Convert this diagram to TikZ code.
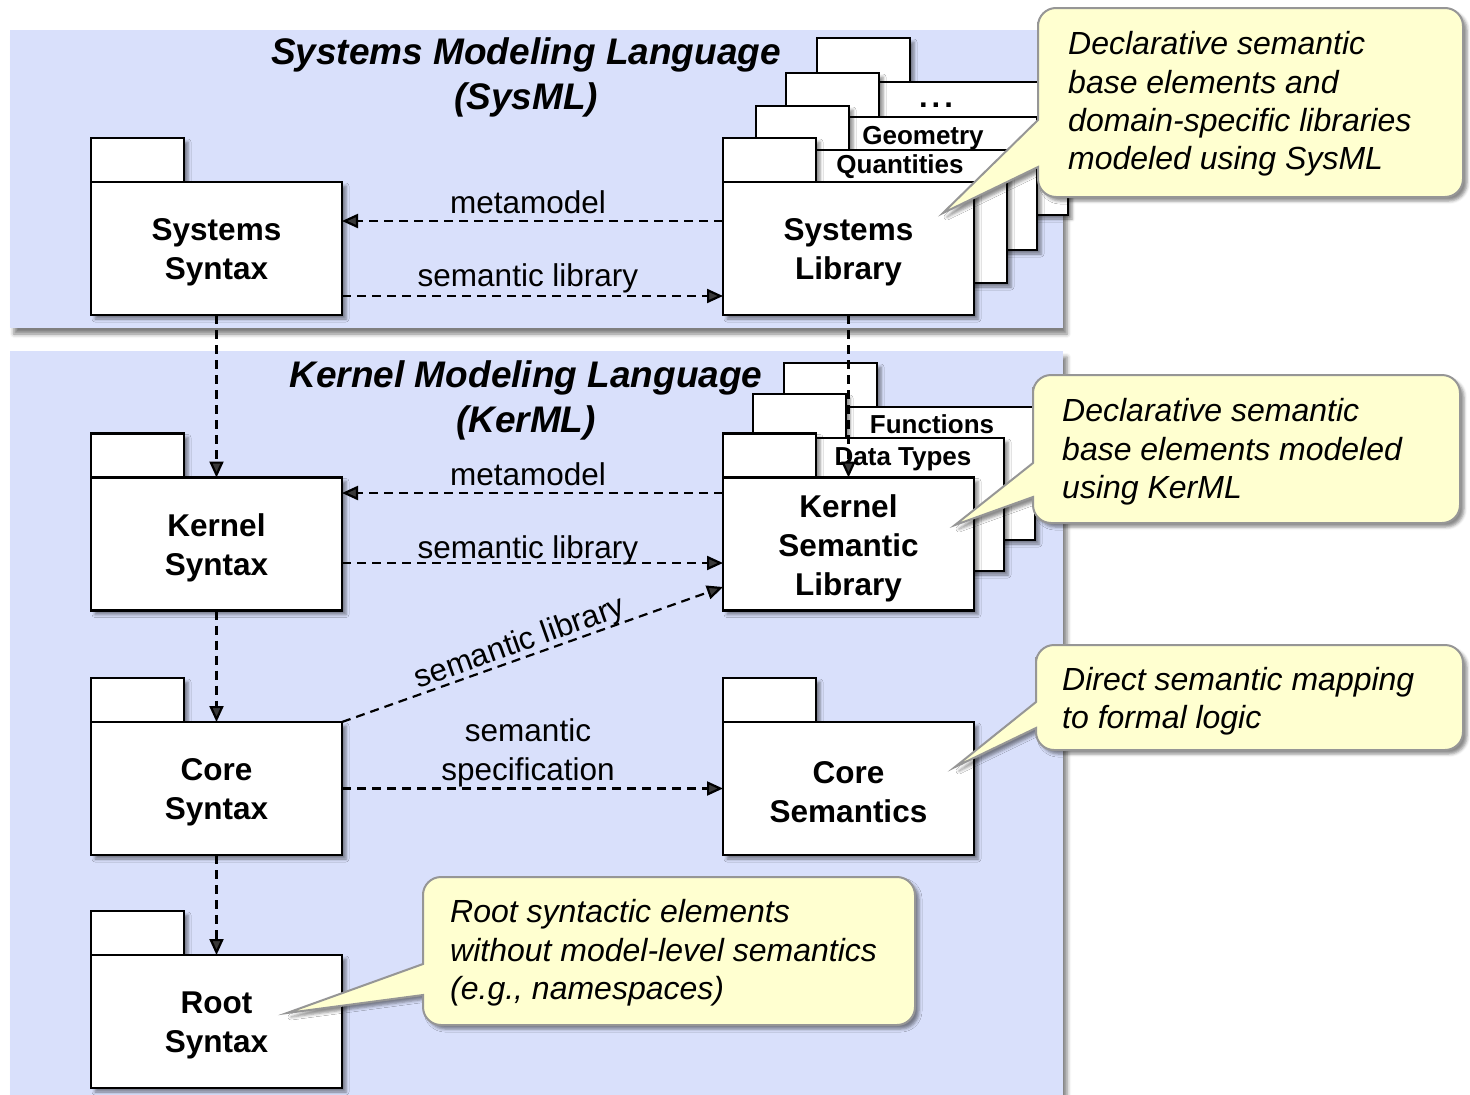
\documentclass[tikz,border=0pt]{standalone}
\usepackage{fontspec}
\setmainfont{Liberation Sans}
\usetikzlibrary{arrows.meta,shadows.blur,calc}
\definecolor{panelblue}{RGB}{217,224,251}
\definecolor{callfill}{RGB}{255,255,208}
\definecolor{callline}{RGB}{150,150,150}
\tikzset{
 shad/.style={blur shadow={shadow xshift=4pt, shadow yshift=-4pt, shadow blur radius=3pt, shadow opacity=45}},
 panelshad/.style={blur shadow={shadow xshift=4pt, shadow yshift=-6pt, shadow blur radius=4pt, shadow opacity=50}},
 pkgtab/.style={draw=black, line width=2.4pt, fill=white, shad},
 pkgbody/.style={draw=black, line width=2.4pt, fill=white, shad, minimum width=251pt, minimum height=133pt, inner sep=0pt, outer sep=0pt},
 pkgtext/.style={inner sep=0pt, align=center, font=\bfseries\fontsize{31.5}{39}\selectfont},
 smalllbl/.style={inner sep=0pt, font=\bfseries\fontsize{26}{30}\selectfont},
 titletext/.style={align=center, inner sep=0pt, font=\bfseries\itshape\fontsize{37}{45}\selectfont},
 lbl/.style={inner sep=0pt, font=\fontsize{31.5}{38}\selectfont},
 dep/.style={line width=2.2pt, dash pattern=on 9pt off 6pt, -{Triangle[length=16pt,width=14pt]}},
 calloutshape/.style={fill=callfill, draw=callline, line width=2pt, shad},
 callouttext/.style={anchor=west, align=left, inner sep=0pt, font=\itshape\fontsize{32}{38.3}\selectfont},
}
% #1 name, #2 x, #3 y of body top, #4 text
\newcommand\umlpkg[4]{%
 \coordinate (#1nw) at (#2,#3);
 \draw[pkgtab] (#1nw) rectangle ++(93,-44);
 \node[pkgbody,anchor=north west] (#1) at (#1nw) {};
 \node[pkgtext] (#1txt) at ([yshift=-4pt]#1.center) {#4};
}
\begin{document}
\begin{tikzpicture}[x=1pt,y=-1pt]
\useasboundingbox (0,0) rectangle (1470,1095);
% panels
\fill[panelblue, panelshad] (10,30) rectangle (1063,328);
\fill[panelblue, panelshad] (10,351) rectangle (1063,1120);
\node[titletext] (t1) at (526,77) {Systems Modeling Language\\(SysML)};
\node[titletext] (t2) at (526,400) {Kernel Modeling Language\\(KerML)};
% Systems library stack
\umlpkg{slpd}{817}{82}{}
\node[smalllbl, anchor=base] (lbldots) at (936,107) {\fontsize{31}{31}\selectfont.\hspace{4pt}.\hspace{4pt}.};
\umlpkg{slpc}{786}{117}{}
\node[smalllbl] (lblgeo) at (923,138) {Geometry};
\umlpkg{slpb}{756}{150}{}
\node[smalllbl] (lblqty) at (900,167) {Quantities};
\umlpkg{sl}{723}{182}{Systems\\Library}
% Kernel library stack
\umlpkg{kslc}{784}{407}{}
\node[smalllbl] (lblfun) at (932,424) {Functions};
\umlpkg{kslb}{753}{438}{}
\node[smalllbl] (lbldt) at (903,459) {Data Types};
\umlpkg{ksl}{723}{477.5}{Kernel\\Semantic\\Library}
% left column
\umlpkg{ss}{91}{182}{Systems\\Syntax}
\umlpkg{ks}{91}{477.5}{Kernel\\Syntax}
\umlpkg{cs}{91}{722}{Core\\Syntax}
\umlpkg{rs}{91}{955}{Root\\Syntax}
\umlpkg{csem}{723}{722}{Core\\Semantics}
% connectors
\draw[dep] ([yshift=27.5pt]sl.west) -- ([yshift=27.5pt]ss.east);
\node[lbl, anchor=base] (lmm1) at (528,213) {metamodel};
\draw[dep] ([yshift=-47.5pt]ss.east) -- ([yshift=-47.5pt]sl.west);
\node[lbl, anchor=base] (lsl1) at (528,286) {semantic library};
\draw[dep] ([yshift=51pt]ksl.west) -- ([yshift=51pt]ks.east);
\node[lbl, anchor=base] (lmm2) at (528,485) {metamodel};
\draw[dep] ([yshift=-19pt]ks.east) -- ([yshift=-19pt]ksl.west);
\node[lbl, anchor=base] (lsl2) at (528,558) {semantic library};
\draw[dep] (cs.north east) -- ([yshift=-43pt]ksl.west)
  node[lbl, sloped, pos=0.48, above=5pt, text depth=0pt] (lsl3) {semantic library};
\draw[dep] (cs.east) -- (csem.west);
\node[lbl, anchor=base] (lspa) at (528,741) {semantic};
\node[lbl, anchor=base] (lspb) at (528,780) {specification};
\draw[dep] (ss.south) -- (ks.north);
\draw[dep] (ks.south) -- (cs.north);
\draw[dep] (cs.south) -- (rs.north);
\draw[dep] (sl.south) -- (ksl.north);
% callouts
\path[calloutshape] (1038,167) [sharp corners] -- (1038,178) [rounded corners=18pt] -- (1038,197) -- (1463,197) -- (1463,8) -- (1038,8) -- (1038,40) [sharp corners] -- (1038,120) -- (943,213) -- cycle;
\node[callouttext] (c1) at (1068,104) {Declarative semantic\\base elements and\\domain-specific libraries\\modeled using SysML};
\path[calloutshape] (1033,497) [sharp corners] -- (1033,504) [rounded corners=18pt] -- (1033,523) -- (1460,523) -- (1460,375) -- (1033,375) -- (1033,405) [sharp corners] -- (1033,463) -- (955,525) -- cycle;
\node[callouttext] (c2) at (1062,452) {Declarative semantic\\base elements modeled\\using KerML};
\path[calloutshape] (1036,728) [sharp corners] -- (1036,731) [rounded corners=18pt] -- (1036,750) -- (1463,750) -- (1463,645) -- (1036,645) -- (1036,675) [sharp corners] -- (1036,702) -- (955,767) -- cycle;
\node[callouttext] (c3) at (1062,701) {Direct semantic mapping\\to formal logic};
\path[calloutshape] (423,995) [sharp corners] -- (423,1005) [rounded corners=18pt] -- (423,1025) -- (915,1025) -- (915,877) -- (423,877) -- (423,910) [sharp corners] -- (423,964) -- (287,1013) -- cycle;
\node[callouttext] (c4) at (450,953) {Root syntactic elements\\without model-level semantics\\(e.g., namespaces)};
\end{tikzpicture}
\end{document}
